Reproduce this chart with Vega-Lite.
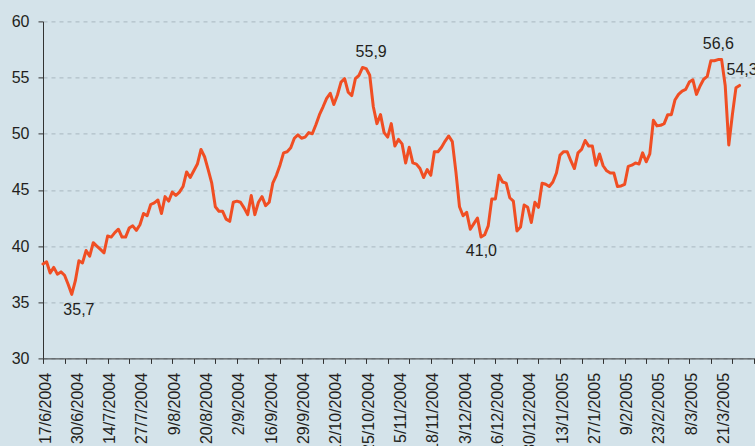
{
  "$schema": "https://vega.github.io/schema/vega-lite/v6.json",
  "width": 712,
  "height": 337,
  "autosize": {"type": "none"},
  "padding": {"left": 43, "top": 21.4, "right": 0, "bottom": 87.6},
  "background": "#d4e3ea",
  "config": {"view": {"stroke": null}, "font": "Liberation Sans"},
  "datasets": {
    "series": [
      {"i":0,"v":38.4},{"i":1,"v":38.6},{"i":2,"v":37.6},{"i":3,"v":38.1},{"i":4,"v":37.5},{"i":5,"v":37.7},{"i":6,"v":37.4},{"i":7,"v":36.6},{"i":8,"v":35.7},{"i":9,"v":36.9},
      {"i":10,"v":38.7},{"i":11,"v":38.5},{"i":12,"v":39.6},{"i":13,"v":39.1},{"i":14,"v":40.3},{"i":15,"v":40.0},{"i":16,"v":39.7},{"i":17,"v":39.4},{"i":18,"v":40.9},{"i":19,"v":40.8},
      {"i":20,"v":41.2},{"i":21,"v":41.5},{"i":22,"v":40.8},{"i":23,"v":40.8},{"i":24,"v":41.6},{"i":25,"v":41.8},{"i":26,"v":41.4},{"i":27,"v":41.9},{"i":28,"v":42.9},{"i":29,"v":42.7},
      {"i":30,"v":43.7},{"i":31,"v":43.85},{"i":32,"v":44.1},{"i":33,"v":42.9},{"i":34,"v":44.4},{"i":35,"v":44.0},{"i":36,"v":44.8},{"i":37,"v":44.5},{"i":38,"v":44.8},{"i":39,"v":45.3},
      {"i":40,"v":46.6},{"i":41,"v":46.1},{"i":42,"v":46.7},{"i":43,"v":47.3},{"i":44,"v":48.6},{"i":45,"v":47.95},{"i":46,"v":46.8},{"i":47,"v":45.6},{"i":48,"v":43.5},{"i":49,"v":43.1},
      {"i":50,"v":43.1},{"i":51,"v":42.4},{"i":52,"v":42.2},{"i":53,"v":43.9},{"i":54,"v":44.0},{"i":55,"v":43.9},{"i":56,"v":43.4},{"i":57,"v":42.8},{"i":58,"v":44.5},{"i":59,"v":42.8},
      {"i":60,"v":43.9},{"i":61,"v":44.4},{"i":62,"v":43.6},{"i":63,"v":43.9},{"i":64,"v":45.6},{"i":65,"v":46.3},{"i":66,"v":47.2},{"i":67,"v":48.3},{"i":68,"v":48.4},{"i":69,"v":48.75},
      {"i":70,"v":49.6},{"i":71,"v":49.9},{"i":72,"v":49.6},{"i":73,"v":49.7},{"i":74,"v":50.1},{"i":75,"v":50.0},{"i":76,"v":50.8},{"i":77,"v":51.7},{"i":78,"v":52.4},{"i":79,"v":53.15},
      {"i":80,"v":53.6},{"i":81,"v":52.6},{"i":82,"v":53.45},{"i":83,"v":54.6},{"i":84,"v":54.9},{"i":85,"v":53.7},{"i":86,"v":53.4},{"i":87,"v":54.9},{"i":88,"v":55.2},{"i":89,"v":55.9},
      {"i":90,"v":55.8},{"i":91,"v":55.2},{"i":92,"v":52.4},{"i":93,"v":50.9},{"i":94,"v":51.7},{"i":95,"v":50.1},{"i":96,"v":49.7},{"i":97,"v":50.9},{"i":98,"v":48.9},{"i":99,"v":49.5},
      {"i":100,"v":49.1},{"i":101,"v":47.4},{"i":102,"v":48.8},{"i":103,"v":47.4},{"i":104,"v":47.3},{"i":105,"v":46.9},{"i":106,"v":46.1},{"i":107,"v":46.8},{"i":108,"v":46.3},{"i":109,"v":48.4},
      {"i":110,"v":48.4},{"i":111,"v":48.8},{"i":112,"v":49.35},{"i":113,"v":49.8},{"i":114,"v":49.3},{"i":115,"v":46.6},{"i":116,"v":43.5},{"i":117,"v":42.7},{"i":118,"v":43.0},{"i":119,"v":41.5},
      {"i":120,"v":42.0},{"i":121,"v":42.5},{"i":122,"v":40.8},{"i":123,"v":41.0},{"i":124,"v":41.8},{"i":125,"v":44.2},{"i":126,"v":44.2},{"i":127,"v":46.3},{"i":128,"v":45.7},{"i":129,"v":45.6},
      {"i":130,"v":44.3},{"i":131,"v":44.0},{"i":132,"v":41.35},{"i":133,"v":41.7},{"i":134,"v":43.65},{"i":135,"v":43.45},{"i":136,"v":42.1},{"i":137,"v":43.9},{"i":138,"v":43.45},{"i":139,"v":45.6},
      {"i":140,"v":45.5},{"i":141,"v":45.3},{"i":142,"v":45.7},{"i":143,"v":46.5},{"i":144,"v":48.1},{"i":145,"v":48.4},{"i":146,"v":48.4},{"i":147,"v":47.6},{"i":148,"v":46.9},{"i":149,"v":48.3},
      {"i":150,"v":48.6},{"i":151,"v":49.4},{"i":152,"v":48.9},{"i":153,"v":48.9},{"i":154,"v":47.2},{"i":155,"v":48.2},{"i":156,"v":47.15},{"i":157,"v":46.7},{"i":158,"v":46.5},{"i":159,"v":46.5},
      {"i":160,"v":45.3},{"i":161,"v":45.35},{"i":162,"v":45.5},{"i":163,"v":47.1},{"i":164,"v":47.2},{"i":165,"v":47.4},{"i":166,"v":47.3},{"i":167,"v":48.3},{"i":168,"v":47.5},{"i":169,"v":48.2},
      {"i":170,"v":51.2},{"i":171,"v":50.7},{"i":172,"v":50.75},{"i":173,"v":50.9},{"i":174,"v":51.7},{"i":175,"v":51.7},{"i":176,"v":53.0},{"i":177,"v":53.5},{"i":178,"v":53.8},{"i":179,"v":53.95},
      {"i":180,"v":54.6},{"i":181,"v":54.8},{"i":182,"v":53.5},{"i":183,"v":54.25},{"i":184,"v":54.85},{"i":185,"v":55.1},{"i":186,"v":56.5},{"i":187,"v":56.5},{"i":188,"v":56.6},{"i":189,"v":56.6},
      {"i":190,"v":54.3},{"i":191,"v":49.0},{"i":192,"v":51.7},{"i":193,"v":54.1},{"i":194,"v":54.3}
    ],
    "notes": [
      {"i":10,"v":35.7,"t":"35,7"},
      {"i":91.4,"v":55.9,"t":"55,9"},
      {"i":122.1,"v":41.0,"t":"41,0"},
      {"i":188.1,"v":56.6,"t":"56,6"},
      {"i":194.7,"v":54.3,"t":"54,3"}
    ]
  },
  "layer": [
    {
      "data": {"name": "series"},
      "mark": {"type": "line", "color": "#f04e23", "strokeWidth": 3, "strokeJoin": "round", "strokeCap": "round"},
      "encoding": {
        "x": {
          "field": "i", "type": "quantitative",
          "scale": {"domain": [0, 198.3], "nice": false, "zero": false},
          "axis": {
            "title": null, "grid": false, "tickCount": 200,
            "values": [0,6,9,12,18,24,27,30,36,42,45,48,54,60,63,66,72,78,81,84,90,96,99,102,108,114,117,120,126,132,135,138,144,150,153,156,162,168,171,174,180,186,189,192,198],
            "labelExpr": "datum.value % 9 == 0 ? ['17/6/2004','30/6/2004','14/7/2004','27/7/2004','9/8/2004','20/8/2004','2/9/2004','16/9/2004','29/9/2004','12/10/2004','25/10/2004','5/11/2004','18/11/2004','3/12/2004','16/12/2004','30/12/2004','13/1/2005','27/1/2005','9/2/2005','23/2/2005','8/3/2005','21/3/2005'][datum.value / 9] : ''",
            "domainColor": "#333333", "tickColor": "#333333", "tickSize": 5,
            "tickOpacity": {"condition": {"test": "datum.value % 6 != 0", "value": 0}, "value": 1},
            "labelAngle": 270, "labelAlign": "right", "labelBaseline": "middle",
            "labelPadding": 9, "labelFontSize": 16, "labelColor": "#231f20",
            "labelOverlap": false, "labelOffset": 2, "labelFlush": false, "labelBound": false
          }
        },
        "y": {
          "field": "v", "type": "quantitative",
          "scale": {"domain": [30, 60], "nice": false, "zero": false},
          "axis": {
            "title": null, "values": [30,35,40,45,50,55,60], "tickCount": 20,
            "grid": true, "gridDash": [4,4], "gridColor": "#a9b7bf", "gridWidth": 1,
            "domainColor": "#333333", "tickColor": "#333333", "tickSize": 5,
            "labelPadding": 9, "labelFontSize": 16, "labelColor": "#231f20"
          }
        }
      }
    },
    {
      "data": {"name": "notes"},
      "transform": [{"filter": "datum.v < 45"}],
      "mark": {"type": "text", "dy": 21, "fontSize": 16, "color": "#231f20", "baseline": "alphabetic", "align": "center"},
      "encoding": {
        "x": {"field": "i", "type": "quantitative"},
        "y": {"field": "v", "type": "quantitative"},
        "text": {"field": "t"}
      }
    },
    {
      "data": {"name": "notes"},
      "transform": [{"filter": "datum.v >= 45"}],
      "mark": {"type": "text", "dy": -10.5, "fontSize": 16, "color": "#231f20", "baseline": "alphabetic", "align": "center"},
      "encoding": {
        "x": {"field": "i", "type": "quantitative"},
        "y": {"field": "v", "type": "quantitative"},
        "text": {"field": "t"}
      }
    }
  ]
}
